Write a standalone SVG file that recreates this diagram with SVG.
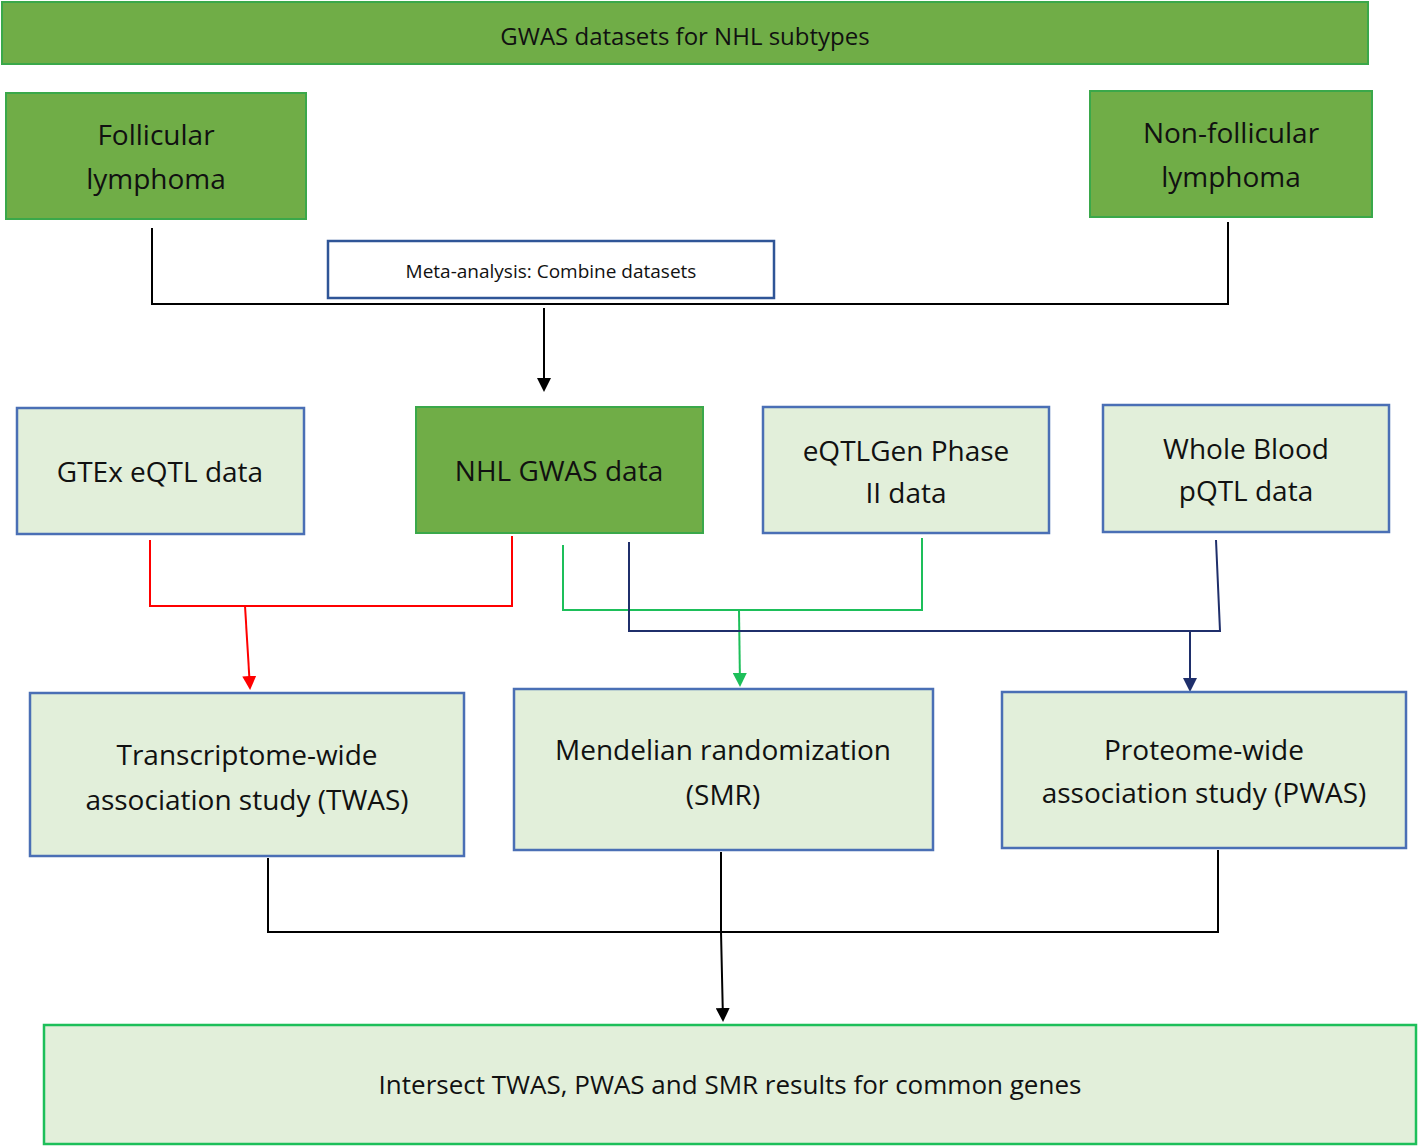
<svg xmlns="http://www.w3.org/2000/svg" width="1418" height="1147" viewBox="0 0 1418 1147">
<style>
text{font-family:"Open Sans","Liberation Sans",sans-serif;fill:#111;text-anchor:middle}
.dg{fill:#70ad47;stroke:#3aa84a;stroke-width:2}
.lg{fill:#e2efda;stroke:#4a6fb5;stroke-width:2.5}
.c{fill:none;stroke-width:2}
</style>
<defs>
<marker id="ab" markerWidth="10" markerHeight="10" refX="8" refY="5" orient="auto" markerUnits="userSpaceOnUse"><path d="M0,0L10,5L0,10z" fill="#000"/></marker>
<marker id="ar" markerWidth="14" markerHeight="14" refX="12" refY="7" orient="auto" markerUnits="userSpaceOnUse"><path d="M0,0L14,7L0,14z" fill="#f00"/></marker>
<marker id="ag" markerWidth="14" markerHeight="14" refX="12" refY="7" orient="auto" markerUnits="userSpaceOnUse"><path d="M0,0L14,7L0,14z" fill="#1dbf5a"/></marker>
<marker id="an" markerWidth="14" markerHeight="14" refX="12" refY="7" orient="auto" markerUnits="userSpaceOnUse"><path d="M0,0L14,7L0,14z" fill="#1f2f6b"/></marker>
<marker id="ak" markerWidth="14" markerHeight="14" refX="12" refY="7" orient="auto" markerUnits="userSpaceOnUse"><path d="M0,0L14,7L0,14z" fill="#000"/></marker>
</defs>
<g id="connectors">
<path class="c" stroke="#000" d="M152,228V304H1228V222"/>
<path class="c" stroke="#000" d="M544,308V390" marker-end="url(#ak)"/>
<path class="c" stroke="#f00" d="M150,540V606H512V536"/>
<path class="c" stroke="#f00" d="M245,606L250,688" marker-end="url(#ar)"/>
<path class="c" stroke="#1dbf5a" d="M563,545V610H922V538"/>
<path class="c" stroke="#1dbf5a" d="M739,610L740,685" marker-end="url(#ag)"/>
<path class="c" stroke="#1f2f6b" d="M629,542V631H1220L1216,540"/>
<path class="c" stroke="#1f2f6b" d="M1190,631V690" marker-end="url(#an)"/>
<path class="c" stroke="#000" d="M268,858V932H1218V850"/>
<path class="c" stroke="#000" d="M721,852V932L723,1020" marker-end="url(#ak)"/>
</g>
<g id="banner"><rect class="dg" x="2" y="2" width="1366" height="62"/><text x="685" y="45" font-size="24">GWAS datasets for NHL subtypes</text></g>
<g id="follicular"><rect class="dg" x="6" y="93" width="300" height="126" stroke="#5b8f3a"/><text x="156" y="145" font-size="28">Follicular</text><text x="156" y="189" font-size="28">lymphoma</text></g>
<g id="nonfollicular"><rect class="dg" x="1090" y="91" width="282" height="126" stroke="#5b8f3a"/><text x="1231" y="143" font-size="28">Non-follicular</text><text x="1231" y="187" font-size="28">lymphoma</text></g>
<g id="meta"><rect x="328" y="241" width="446" height="57" fill="#fff" stroke="#2f5597" stroke-width="2.5"/><text x="551" y="278" font-size="19">Meta-analysis: Combine datasets</text></g>
<g id="gtex"><rect class="lg" x="17" y="408" width="287" height="126"/><text x="160" y="482" font-size="28">GTEx eQTL data</text></g>
<g id="nhl"><rect class="dg" x="416" y="407" width="287" height="126" stroke="#5b8f3a"/><text x="559" y="481" font-size="28">NHL GWAS data</text></g>
<g id="eqtlgen"><rect class="lg" x="763" y="407" width="286" height="126"/><text x="906" y="461" font-size="28">eQTLGen Phase</text><text x="906" y="503" font-size="28">II data</text></g>
<g id="wholeblood"><rect class="lg" x="1103" y="405" width="286" height="127"/><text x="1246" y="459" font-size="28">Whole Blood</text><text x="1246" y="501" font-size="28">pQTL data</text></g>
<g id="twas"><rect class="lg" x="30" y="693" width="434" height="163"/><text x="247" y="765" font-size="28">Transcriptome-wide</text><text x="247" y="810" font-size="28">association study (TWAS)</text></g>
<g id="smr"><rect class="lg" x="514" y="689" width="419" height="161"/><text x="723" y="760" font-size="28">Mendelian randomization</text><text x="723" y="805" font-size="28">(SMR)</text></g>
<g id="pwas"><rect class="lg" x="1002" y="692" width="404" height="156"/><text x="1204" y="760" font-size="28">Proteome-wide</text><text x="1204" y="803" font-size="28">association study (PWAS)</text></g>
<g id="intersect"><rect x="44" y="1025" width="1372" height="119" fill="#e2efda" stroke="#1dbf5a" stroke-width="2.5"/><text x="730" y="1094" font-size="26">Intersect TWAS, PWAS and SMR results for common genes</text></g>
</svg>
